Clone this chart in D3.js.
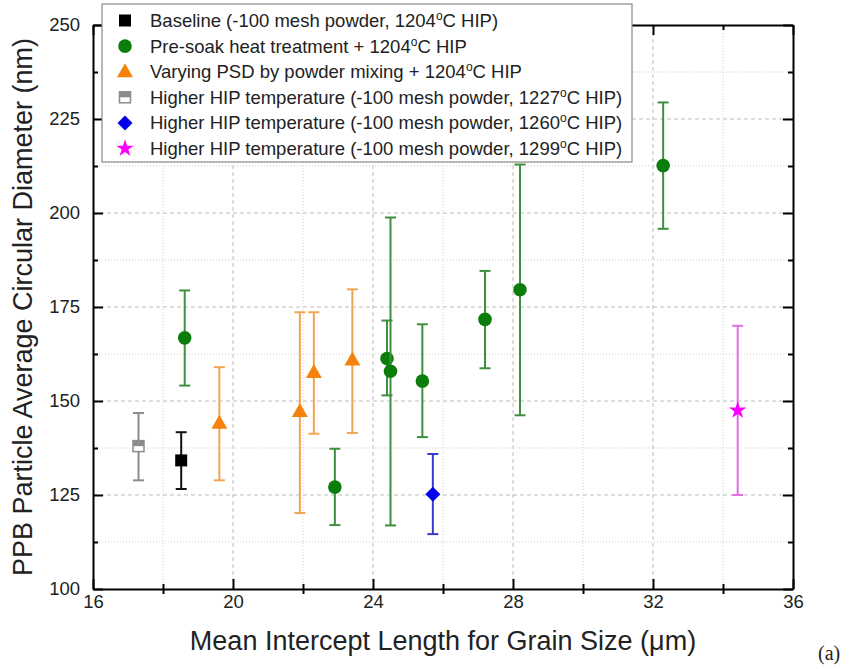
<!DOCTYPE html>
<html>
<head>
<meta charset="utf-8">
<script src="https://cdn.jsdelivr.net/npm/d3@7"></script>
<style>
  html, body { margin: 0; padding: 0; background: #fff; }
  svg { display: block; font-family: "Liberation Sans", Arial, sans-serif; }
</style>
</head>
<body>
<svg id="chart" width="854" height="669"></svg>
<script>
// ---------- data ----------
const xTicks = [16, 20, 24, 28, 32, 36];
const yTicks = [100, 125, 150, 175, 200, 225, 250];

// Baseline (-100 mesh powder, 1204°C HIP)
const baselineX = [18.52];
const baselineY = [134.2];
const baselineLo = [126.6];
const baselineHi = [141.7];

// Pre-soak heat treatment + 1204°C HIP
const presoakX = [18.62, 22.91, 24.40, 24.50, 25.41, 27.20, 28.20, 32.29];
const presoakY = [166.8, 127.1, 161.3, 157.9, 155.3, 171.7, 179.6, 212.6];
const presoakLo = [154.1, 117.0, 151.5, 116.9, 140.4, 158.7, 146.2, 195.8];
const presoakHi = [179.4, 137.3, 171.4, 198.8, 170.4, 184.6, 212.9, 229.4];

// Varying PSD by powder mixing + 1204°C HIP
const psdX = [19.61, 21.91, 22.31, 23.41];
const psdY = [144.1, 147.2, 157.6, 160.9];
const psdLo = [128.9, 120.2, 141.3, 141.5];
const psdHi = [159.0, 173.6, 173.6, 179.7];

// Higher HIP temperature 1227°C
const hip1227X = [17.30];
const hip1227Y = [138.0];
const hip1227Lo = [128.9];
const hip1227Hi = [146.8];

// Higher HIP temperature 1260°C
const hip1260X = [25.71];
const hip1260Y = [125.2];
const hip1260Lo = [114.6];
const hip1260Hi = [135.9];

// Higher HIP temperature 1299°C
const hip1299X = [34.42];
const hip1299Y = [147.5];
const hip1299Lo = [125.0];
const hip1299Hi = [170.0];

const seriesNames = [
  ["Baseline (-100 mesh powder, 1204", "C HIP)"],
  ["Pre-soak heat treatment + 1204", "C HIP"],
  ["Varying PSD by powder mixing + 1204", "C HIP"],
  ["Higher HIP temperature (-100 mesh powder, 1227", "C HIP)"],
  ["Higher HIP temperature (-100 mesh powder, 1260", "C HIP)"],
  ["Higher HIP temperature (-100 mesh powder, 1299", "C HIP)"]
];

// ---------- layout ----------
const svg = d3.select("#chart");
const W = 854, H = 669;
const m = {left: 93, right: 61, top: 25, bottom: 80};
const x = d3.scaleLinear().domain([16, 36]).range([m.left, W - m.right]);
const y = d3.scaleLinear().domain([100, 250]).range([H - m.bottom, m.top]);

const xMinor = d3.range(18, 36, 4);
const yMinor = d3.range(112.5, 250, 25);
const xMajorInner = xTicks.slice(1, -1);
const yMajorInner = yTicks.slice(1, -1);

// grid
const grid = svg.append("g");
grid.selectAll(".gxM").data(xMajorInner).join("line")
  .attr("x1", d => x(d)).attr("x2", d => x(d)).attr("y1", y(100)).attr("y2", y(250))
  .attr("stroke", "#bdbdbd").attr("stroke-width", 1).attr("stroke-dasharray", "4,3");
grid.selectAll(".gxm").data(xMinor).join("line")
  .attr("x1", d => x(d)).attr("x2", d => x(d)).attr("y1", y(100)).attr("y2", y(250))
  .attr("stroke", "#cfcfcf").attr("stroke-width", 1).attr("stroke-dasharray", "1,2");
grid.selectAll(".gyM").data(yMajorInner).join("line")
  .attr("y1", d => y(d)).attr("y2", d => y(d)).attr("x1", x(16)).attr("x2", x(36))
  .attr("stroke", "#bdbdbd").attr("stroke-width", 1).attr("stroke-dasharray", "4,3");
grid.selectAll(".gym").data(yMinor).join("line")
  .attr("y1", d => y(d)).attr("y2", d => y(d)).attr("x1", x(16)).attr("x2", x(36))
  .attr("stroke", "#cfcfcf").attr("stroke-width", 1).attr("stroke-dasharray", "1,2");

// axes (ticks inward)
const tickFont = "18.5px";
const gBottom = svg.append("g").attr("transform", `translate(0,${y(100)})`)
  .call(d3.axisBottom(x).tickValues(xTicks).tickSizeInner(-10).tickSizeOuter(0).tickPadding(6).tickFormat(d3.format("d")));
const gTop = svg.append("g").attr("transform", `translate(0,${y(250)})`)
  .call(d3.axisTop(x).tickValues(xTicks).tickSizeInner(-10).tickSizeOuter(0).tickFormat(""));
const gLeft = svg.append("g").attr("transform", `translate(${x(16)},0)`)
  .call(d3.axisLeft(y).tickValues(yTicks).tickSizeInner(-10).tickSizeOuter(0).tickPadding(13).tickFormat(d3.format("d")));
const gRight = svg.append("g").attr("transform", `translate(${x(36)},0)`)
  .call(d3.axisRight(y).tickValues(yTicks).tickSizeInner(-10).tickSizeOuter(0).tickFormat(""));
[gBottom, gTop, gLeft, gRight].forEach(g => {
  g.select(".domain").attr("stroke", "#000").attr("stroke-width", 2);
  g.selectAll(".tick line").attr("stroke", "#000").attr("stroke-width", 2);
  g.selectAll(".tick text").attr("font-size", tickFont).attr("fill", "#222")
   .attr("font-family", "'Liberation Sans', Arial, sans-serif");
});
// minor ticks
const gBottomMinor = svg.append("g").attr("transform", `translate(0,${y(100)})`)
  .call(d3.axisBottom(x).tickValues(xMinor).tickSize(5).tickFormat(""));
const gTopMinor = svg.append("g").attr("transform", `translate(0,${y(250)})`)
  .call(d3.axisTop(x).tickValues(xMinor).tickSize(-5).tickFormat(""));
const gLeftMinor = svg.append("g").attr("transform", `translate(${x(16)},0)`)
  .call(d3.axisLeft(y).tickValues(yMinor).tickSize(-5).tickFormat(""));
const gRightMinor = svg.append("g").attr("transform", `translate(${x(36)},0)`)
  .call(d3.axisRight(y).tickValues(yMinor).tickSize(-5).tickFormat(""));
[gBottomMinor, gTopMinor, gLeftMinor, gRightMinor].forEach(g => {
  g.select(".domain").remove();
  g.selectAll(".tick line").attr("stroke", "#000").attr("stroke-width", 2);
});
gBottomMinor.selectAll(".tick line").attr("y1", -5).attr("y2", 5);

// axis titles
svg.append("text").attr("x", (x(16) + x(36)) / 2).attr("y", 650)
  .attr("text-anchor", "middle").attr("font-size", "27px").attr("fill", "#222")
  .text("Mean Intercept Length for Grain Size (μm)");
svg.append("text").attr("transform", `translate(32,${(y(100) + y(250)) / 2}) rotate(-90)`)
  .attr("text-anchor", "middle").attr("font-size", "27px").attr("fill", "#222")
  .text("PPB Particle Average Circular Diameter (nm)");
svg.append("text").attr("x", 818).attr("y", 660)
  .attr("font-family", "'Liberation Serif', 'Times New Roman', serif")
  .attr("font-size", "20px").attr("fill", "#222").text("(a)");

// ---------- series ----------
function zipSeries(xs, ys, lo, hi) {
  return xs.map((v, i) => ({x: v, y: ys[i], lo: lo[i], hi: hi[i]}));
}
const series = [
  {data: zipSeries(baselineX, baselineY, baselineLo, baselineHi), type: "square", fill: "#000", bar: "#111"},
  {data: zipSeries(presoakX, presoakY, presoakLo, presoakHi), type: "circle", fill: "#0a7d0a", bar: "#3f8f3f"},
  {data: zipSeries(psdX, psdY, psdLo, psdHi), type: "triangle", fill: "#f5820d", bar: "#f0a552"},
  {data: zipSeries(hip1227X, hip1227Y, hip1227Lo, hip1227Hi), type: "halfsquare", fill: "#8c8c8c", bar: "#8c8c8c"},
  {data: zipSeries(hip1260X, hip1260Y, hip1260Lo, hip1260Hi), type: "diamond", fill: "#0000ee", bar: "#3a3ad0"},
  {data: zipSeries(hip1299X, hip1299Y, hip1299Lo, hip1299Hi), type: "star", fill: "#ff00ff", bar: "#e070e0"}
];

function drawMarker(g, type, fill, cx, cy) {
  if (type === "square") {
    g.append("rect").attr("x", cx - 6).attr("y", cy - 6).attr("width", 12).attr("height", 12).attr("fill", fill);
  } else if (type === "circle") {
    g.append("circle").attr("cx", cx).attr("cy", cy).attr("r", 6.8).attr("fill", fill);
  } else if (type === "triangle") {
    g.append("path").attr("d", `M${cx},${cy - 8.5} L${cx + 8},${cy + 5.5} L${cx - 8},${cy + 5.5} Z`).attr("fill", fill);
  } else if (type === "halfsquare") {
    g.append("rect").attr("x", cx - 5.5).attr("y", cy - 5.5).attr("width", 11).attr("height", 11)
      .attr("fill", "#fff").attr("stroke", fill).attr("stroke-width", 1.5);
    g.append("rect").attr("x", cx - 5.5).attr("y", cy - 5.5).attr("width", 11).attr("height", 5.5).attr("fill", fill);
  } else if (type === "diamond") {
    g.append("path").attr("d", `M${cx},${cy - 7.5} L${cx + 7.5},${cy} L${cx},${cy + 7.5} L${cx - 7.5},${cy} Z`).attr("fill", fill);
  } else if (type === "star") {
    g.append("path").attr("transform", `translate(${cx},${cy})`)
      .attr("d", d3.symbol().type(d3.symbolStar).size(95)()).attr("fill", fill);
  }
}

const plot = svg.append("g");
series.forEach(s => {
  const g = plot.append("g");
  s.data.forEach(d => {
    const px = x(d.x);
    g.append("line").attr("x1", px).attr("x2", px).attr("y1", y(d.lo)).attr("y2", y(d.hi))
      .attr("stroke", s.bar).attr("stroke-width", 2);
    [d.lo, d.hi].forEach(v => {
      g.append("line").attr("x1", px - 5.5).attr("x2", px + 5.5).attr("y1", y(v)).attr("y2", y(v))
        .attr("stroke", s.bar).attr("stroke-width", 2);
    });
    drawMarker(g, s.type, s.fill, px, y(d.y));
  });
});

// ---------- legend ----------
const leg = svg.append("g");
leg.append("rect").attr("x", 102).attr("y", 4).attr("width", 530).attr("height", 158)
  .attr("fill", "#fff").attr("stroke", "#888").attr("stroke-width", 1.2);
series.forEach((s, i) => {
  const ry = 20.5 + i * 25.6;
  drawMarker(leg, s.type, s.fill, 125, ry);
  const t = leg.append("text").attr("x", 150).attr("y", ry + 6.5).attr("font-size", "18.5px").attr("fill", "#222");
  t.append("tspan").text(seriesNames[i][0]);
  t.append("tspan").attr("dy", -7).attr("font-size", "12px").text("o");
  t.append("tspan").attr("dy", 7).text(seriesNames[i][1]);
});
</script>
</body>
</html>
